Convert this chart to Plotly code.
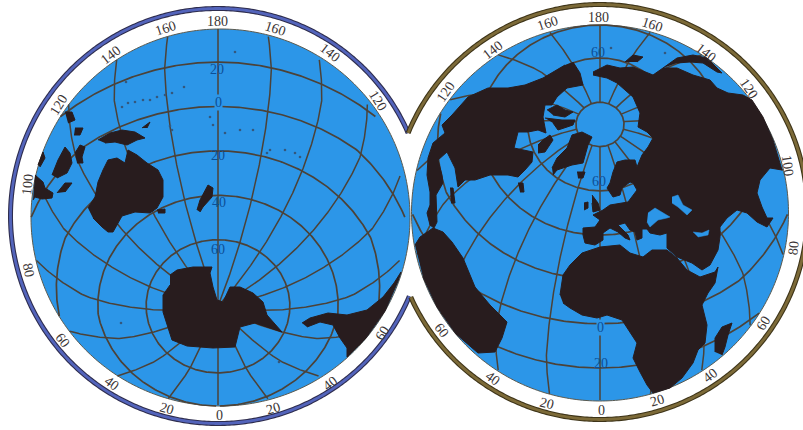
import numpy as np
import plotly.graph_objects as go

# ---------- colours ----------
SEA = "#2c96e8"
LAND = "#281c1e"
GRID = "#4c4238"
TXT = "#3a3434"
LATTXT = "#0c4f96"

# ---------- discs (chart units) ----------
left_disc = (220.5, 217.5, 189.5, 188.5)
right_disc = (600, 213, 188.5, 188)
left_graticule_frame = (218, 217.5, 187, 188.5)
right_graticule_frame = (600, 213, 188, 188)
left_ring = (218, 216, 207.5)
right_ring = (600, 212, 207.5)
notch_top = (408, 133)
notch_bottom = (411, 297)

# ---------- graticule values ----------
left_center_lat, left_center_lon = -50, 180
right_center_lat, right_center_lon = 50, 0
meridians = list(range(0, 360, 20))
left_parallels = [20, 0, -20, -40, -60]
right_parallels = [80, 60, 40, 20, 0, -20]
right_pole_stop = 80
radial_deg = [0, 70, 90]
radial_frac = [0, 155 / 188, 1]

# ---------- land outlines (chart units) ----------
australia_x = [88, 95, 98, 103, 108, 117, 125, 128, 137, 147, 158, 163, 163, 157, 150, 135, 122, 118, 113, 108, 102, 93]
australia_y = [208, 197, 182, 170, 160, 158, 163, 150, 155, 163, 170, 180, 197, 208, 213, 212, 216, 223, 232, 232, 227, 218]
guinea_x = [98, 110, 122, 135, 145, 137, 127, 115, 105]
guinea_y = [140, 133, 130, 132, 138, 140, 145, 142, 143]
britain_x = [142, 150, 147]
britain_y = [128, 122, 128]
phil1_x = [65, 72, 75, 68]
phil1_y = [112, 112, 120, 123]
phil2_x = [75, 83, 80, 74]
phil2_y = [128, 128, 135, 135]
borneo_x = [52, 58, 65, 70, 72, 67, 57]
borneo_y = [175, 160, 147, 153, 163, 173, 178]
sulawesi_x = [75, 80, 85, 82, 83, 77]
sulawesi_y = [153, 145, 147, 157, 163, 163]
java_x = [57, 65, 72, 65]
java_y = [193, 183, 183, 192]
sumatra_x = [35, 43, 45, 53, 52, 42, 35, 33]
sumatra_y = [175, 182, 188, 193, 198, 199, 197, 200]
malay_x = [38, 43, 45, 40]
malay_y = [165, 152, 158, 167]
newzealand_x = [197, 200, 208, 213, 212, 203, 200]
newzealand_y = [210, 200, 185, 188, 197, 207, 212]
tasmania_x = [157, 165, 165, 158]
tasmania_y = [210, 209, 213, 213]
antarctica_x = [170, 177, 193, 212, 210, 213, 217, 223, 230, 240, 253, 263, 267, 282, 267, 255, 240, 237, 235, 213, 187, 172, 168, 163, 163, 170]
antarctica_y = [275, 270, 267, 267, 273, 287, 300, 302, 287, 287, 293, 302, 315, 332, 327, 323, 327, 338, 347, 348, 346, 340, 328, 312, 295, 285]
samerica_left_x = [302, 310, 328, 347, 367, 383, 394, 401, 398, 385, 366, 347, 347, 340, 333, 320, 307]
samerica_left_y = [323, 318, 313, 315, 310, 297, 283, 272, 281, 311, 338, 357, 348, 338, 325, 322, 327]

namerica_x = [565, 553, 543, 525, 508, 488, 468, 452, 442, 445, 433, 428, 427, 430, 430, 427, 430, 434, 437, 436, 443, 442, 438, 447, 455, 458, 465, 475, 490, 508, 518, 525, 532, 533, 514, 518, 528, 538, 546, 543, 545, 552, 557, 567, 580, 583, 580, 573]
namerica_y = [65, 72, 78, 85, 88, 88, 97, 115, 125, 133, 143, 158, 175, 192, 205, 213, 225, 228, 222, 195, 183, 175, 160, 152, 168, 187, 180, 180, 175, 175, 177, 170, 162, 152, 148, 132, 132, 130, 133, 117, 105, 105, 97, 88, 85, 85, 73, 62]
arctic1_x = [547, 557, 565, 573, 565, 553]
arctic1_y = [110, 105, 110, 112, 117, 115]
arctic2_x = [545, 562, 575, 573, 558, 553]
arctic2_y = [118, 120, 120, 125, 130, 123]
baffin_x = [538, 543, 550, 553, 545, 538]
baffin_y = [145, 140, 135, 140, 152, 153]
greenland_x = [552, 557, 567, 572, 582, 592, 588, 583, 572, 557, 553]
greenland_y = [168, 158, 148, 135, 132, 137, 145, 163, 165, 170, 175]
iceland_x = [577, 585, 583, 578]
iceland_y = [172, 172, 178, 178]
newfoundland_x = [518, 523, 524, 520]
newfoundland_y = [183, 183, 192, 192]
cuba_x = [450, 453, 455, 451]
cuba_y = [188, 188, 203, 203]
britain_isle_x = [592, 598, 600, 593, 592]
britain_isle_y = [195, 203, 210, 212, 203]
ireland_x = [584, 588, 588, 584]
ireland_y = [203, 202, 208, 210]
samerica_x = [415, 420, 433, 443, 452, 463, 475, 490, 507, 502, 495, 478, 456, 437, 423]
samerica_y = [245, 237, 228, 232, 242, 258, 287, 305, 322, 338, 352, 353, 334, 307, 277]
eurasia_x = [593, 607, 620, 633, 653, 663, 677, 693, 710, 717, 728, 743, 752, 763, 773, 782, 770, 760, 757, 762, 767, 773, 767, 757, 747, 737, 727, 720, 720, 718, 710, 702, 692, 677, 667, 667, 660, 650, 647, 642, 642, 637, 635, 630, 625, 618, 628, 630, 625, 618, 610, 603, 603, 595, 585, 583, 583, 595, 600, 593, 603, 610, 628, 637, 633, 630, 622, 620, 613, 607, 610, 613, 617, 625, 635, 637, 642, 648, 653, 647, 638, 640, 633, 617, 607, 593]
eurasia_y = [72, 65, 68, 67, 75, 68, 68, 75, 80, 88, 93, 95, 100, 117, 140, 170, 168, 180, 193, 207, 218, 218, 227, 222, 213, 210, 218, 227, 237, 250, 265, 270, 263, 257, 248, 233, 235, 233, 229, 229, 238, 240, 232, 230, 223, 225, 235, 240, 238, 232, 228, 233, 240, 245, 243, 235, 228, 227, 220, 215, 210, 205, 202, 190, 183, 182, 188, 195, 197, 188, 183, 172, 162, 160, 160, 167, 155, 147, 138, 132, 127, 113, 97, 83, 78, 75]
kamchatka_x = [625, 633, 643, 637]
kamchatka_y = [62, 55, 57, 62]
japan_x = [663, 677, 693, 707, 717, 722, 717, 703, 690, 677]
japan_y = [68, 58, 55, 58, 68, 73, 72, 63, 62, 63]
africa_x = [560, 563, 570, 582, 600, 620, 630, 643, 652, 667, 677, 687, 700, 715, 718, 715, 708, 702, 707, 705, 698, 693, 682, 670, 653, 647, 640, 633, 637, 627, 622, 607, 597, 582, 570, 563]
africa_y = [295, 275, 265, 253, 247, 245, 253, 257, 250, 250, 258, 270, 277, 272, 267, 283, 293, 305, 325, 343, 350, 363, 378, 388, 393, 385, 372, 358, 343, 328, 320, 315, 318, 315, 308, 303]
madagascar_x = [715, 715, 722, 732, 728, 725, 722]
madagascar_y = [352, 338, 327, 323, 335, 347, 355]

land_shapes = [
    (australia_x, australia_y), (guinea_x, guinea_y), (britain_x, britain_y), (phil1_x, phil1_y),
    (phil2_x, phil2_y), (borneo_x, borneo_y), (sulawesi_x, sulawesi_y), (java_x, java_y),
    (sumatra_x, sumatra_y), (malay_x, malay_y), (newzealand_x, newzealand_y), (tasmania_x, tasmania_y),
    (antarctica_x, antarctica_y), (samerica_left_x, samerica_left_y),
    (namerica_x, namerica_y), (arctic1_x, arctic1_y), (arctic2_x, arctic2_y),
    (baffin_x, baffin_y), (greenland_x, greenland_y), (iceland_x, iceland_y), (newfoundland_x, newfoundland_y),
    (cuba_x, cuba_y), (britain_isle_x, britain_isle_y), (ireland_x, ireland_y), (samerica_x, samerica_y),
    (eurasia_x, eurasia_y), (kamchatka_x, kamchatka_y), (japan_x, japan_y), (africa_x, africa_y),
    (madagascar_x, madagascar_y),
]

# inland waters on top of land
gulf_x = [693, 702, 709, 708, 698]
gulf_y = [232, 233, 230, 235, 237]
caspian_x = [672, 678, 683, 692, 687, 678, 672]
caspian_y = [197, 195, 205, 210, 215, 207, 203]
blacksea_x = [648, 655, 670, 667, 658, 650, 647]
blacksea_y = [213, 208, 217, 218, 220, 227, 222]
water_shapes = [(gulf_x, gulf_y), (caspian_x, caspian_y), (blacksea_x, blacksea_y)]

# small islands
island_x = [122, 128, 135, 143, 150, 157, 165, 172, 170, 172, 210, 213, 225, 240, 253, 267, 270, 285, 295, 300, 235, 121, 279, 126, 184, 665, 611]
island_y = [107, 103, 102, 100, 100, 97, 95, 93, 126, 130, 117, 125, 133, 130, 130, 153, 150, 150, 153, 157, 52, 323, 362, 82, 87, 53, 48]

# ---------- labels ----------
rim_labels = ["180", "160", "160", "140", "140", "120", "120", "100", "80", "60", "60", "40", "40", "20", "20", "0",
              "180", "160", "160", "140", "140", "120", "120", "100", "80", "60", "60", "40", "40", "20", "20", "0"]
rim_x = [217, 165, 275, 110, 330, 58, 378, 27, 29, 63, 382, 112, 330, 167, 273, 219,
         598, 547, 652, 492, 706, 445, 749, 788, 793, 442, 763, 493, 710, 547, 657, 601]
rim_y = [21, 28, 28, 55, 52, 105, 100, 185, 270, 340, 333, 383, 383, 408, 408, 415,
         17, 23, 24, 50, 52, 92, 88, 165, 248, 330, 323, 378, 375, 403, 400, 410]
rim_angle = [0, -18, 18, -38, 38, -58, 58, -84, 78, 52, -58, 36, -38, 16, -16, 0,
             0, -18, 18, -38, 38, -56, 56, 82, -84, 52, -58, 36, -38, 14, -16, 0]
lat_labels = ["20", "0", "20", "40", "60", "60", "60", "0", "20"]
lat_x = [217, 218, 218, 219, 218, 598, 599, 600, 601]
lat_y = [69, 102, 155, 202, 249, 52, 181, 327, 363]


def project(lat, lon, clat, clon, frame):
    cx, cy, rx, ry = frame
    p, l = np.radians(lat), np.radians(np.asarray(lon) - clon)
    p0 = np.radians(clat)
    cosc = np.sin(p0) * np.sin(p) + np.cos(p0) * np.cos(p) * np.cos(l)
    c = np.degrees(np.arccos(np.clip(cosc, -1, 1)))
    az = np.arctan2(np.sin(l) * np.cos(p), np.cos(p0) * np.sin(p) - np.sin(p0) * np.cos(p) * np.cos(l))
    rho = np.interp(c, radial_deg, radial_frac)
    x = cx + rx * rho * np.sin(az)
    y = cy - ry * rho * np.cos(az)
    mask = c > 90
    return np.where(mask, np.nan, x), np.where(mask, np.nan, y)


def ellipse(cx, cy, rx, ry, n=360):
    t = np.radians(np.linspace(0, 360, n))
    return cx + rx * np.cos(t), cy + ry * np.sin(t)


fig = go.Figure()
NOHOVER = dict(hoverinfo="skip", showlegend=False)

# sea discs
for d in (left_disc, right_disc):
    x, y = ellipse(*d)
    fig.add_trace(go.Scatter(x=x, y=y, mode="lines", fill="toself", fillcolor=SEA,
                             line=dict(color="#5a5a50", width=1, simplify=False), **NOHOVER))

# graticule
for clat, clon, frame, pars, top in (
    (left_center_lat, left_center_lon, left_graticule_frame, left_parallels, 90),
    (right_center_lat, right_center_lon, right_graticule_frame, right_parallels, right_pole_stop),
):
    for m in meridians:
        lats = np.linspace(-90, top, 260)
        x, y = project(lats, np.full_like(lats, m), clat, clon, frame)
        fig.add_trace(go.Scatter(x=x, y=y, mode="lines", line=dict(color=GRID, width=1.5), **NOHOVER))
    for par in pars:
        lons = np.linspace(0, 360, 500)
        x, y = project(np.full_like(lons, par), lons, clat, clon, frame)
        fig.add_trace(go.Scatter(x=x, y=y, mode="lines", line=dict(color=GRID, width=1.7), **NOHOVER))

# land
for xs, ys in land_shapes:
    fig.add_trace(go.Scatter(x=xs, y=ys, mode="lines", fill="toself", fillcolor=LAND,
                             line=dict(color=LAND, width=1), **NOHOVER))
for xs, ys in water_shapes:
    fig.add_trace(go.Scatter(x=xs, y=ys, mode="lines", fill="toself", fillcolor=SEA,
                             line=dict(color=SEA, width=0.5), **NOHOVER))
fig.add_trace(go.Scatter(x=island_x, y=island_y, mode="markers",
                         marker=dict(color="#34587e", size=2.6), **NOHOVER))


def bearing(pt, ring):
    return np.degrees(np.arctan2(pt[1] - ring[1], pt[0] - ring[0]))


# rings, open where the two circles meet
t_left = np.linspace(bearing(notch_bottom, left_ring), 360 + bearing(notch_top, left_ring), 500)
t_right = np.linspace(bearing(notch_top, right_ring), bearing(notch_bottom, right_ring), 500)
for (cx, cy, r), ts, dark, mid in ((left_ring, t_left, "#2e2d4e", "#5364bb"), (right_ring, t_right, "#3e3418", "#7c6a38")):
    x = cx + r * np.cos(np.radians(ts))
    y = cy + r * np.sin(np.radians(ts))
    fig.add_trace(go.Scatter(x=x, y=y, mode="lines", line=dict(color=dark, width=5, simplify=False), **NOHOVER))
    fig.add_trace(go.Scatter(x=x, y=y, mode="lines", line=dict(color=mid, width=2.8, simplify=False), **NOHOVER))

# text
anns = []
for s, x, y, a in zip(rim_labels, rim_x, rim_y, rim_angle):
    anns.append(dict(x=x, y=y, text=s, textangle=a, showarrow=False, xref="x", yref="y",
                     font=dict(family="Liberation Serif", size=14, color=TXT)))
for s, x, y in zip(lat_labels, lat_x, lat_y):
    anns.append(dict(x=x, y=y, text=s, showarrow=False, xref="x", yref="y",
                     font=dict(family="Liberation Serif", size=14, color=LATTXT),
                     bgcolor=SEA if s == "0" else None, borderpad=0))

fig.update_layout(
    width=803, height=430, margin=dict(l=0, r=0, t=0, b=0),
    paper_bgcolor="white", plot_bgcolor="white", showlegend=False, annotations=anns,
    xaxis=dict(range=[0, 803], visible=False, fixedrange=True),
    yaxis=dict(range=[430, 0], visible=False, fixedrange=True),
)
fig.write_html("out.html", config={"displayModeBar": False},
               post_script="document.body.style.margin='0';document.body.style.overflow='hidden';")
